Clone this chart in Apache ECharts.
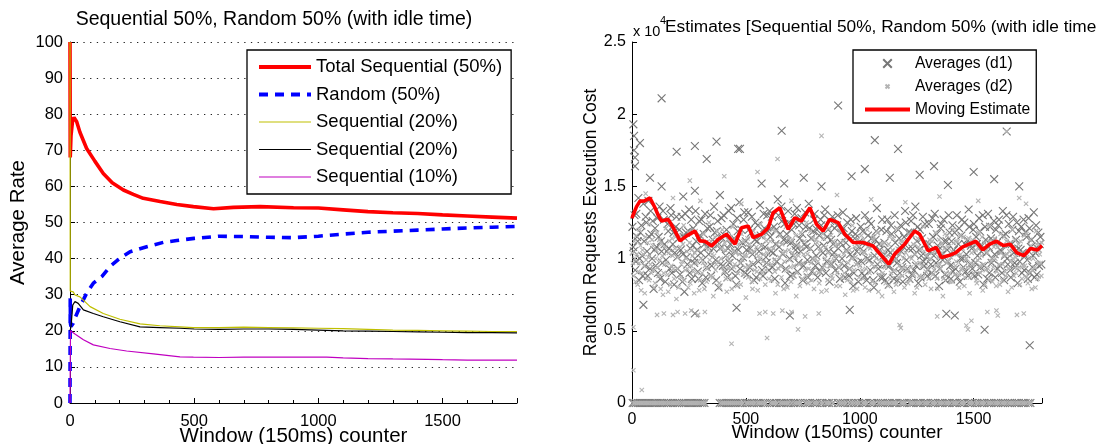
<!DOCTYPE html>
<html><head><meta charset="utf-8">
<script src="https://cdn.jsdelivr.net/npm/echarts@6/dist/echarts.min.js"></script>
<style>html,body{margin:0;padding:0;background:#fff}#c{width:1096px;height:444px}</style>
</head><body><div id="c"></div>
<script>
// ---------- Left chart data ----------
const leftTitle = 'Sequential 50%, Random 50% (with idle time)';
const rightTitle = 'Estimates [Sequential 50%, Random 50% (with idle time)]';
const xTicks = [0, 500, 1000, 1500];

const xTotal = [0,1,4,10,16,27,40,67,100,134,170,215,255,295,363,430,497,578,658,766,900,1000,1100,1200,1300,1400,1500,1600,1700,1800];
const totalSeq = [100,68,74,78,79.1,77.9,75,70.5,67,63.6,61,59,57.8,56.7,55.8,55,54.4,53.8,54.2,54.4,54.1,54.0,53.5,53.0,52.7,52.5,52.1,51.8,51.5,51.2];

const xRand = [0,1,2,4,8,13,20,40,67,94,128,161,201,242,309,376,430,500,600,700,800,900,1000,1100,1200,1300,1400,1500,1600,1700,1800];
const randomSer = [0,29,22,21.2,21,22.1,23.5,26.7,30.4,33.2,35,37.8,40.1,41.9,43.3,44.5,45,45.6,46.2,46.1,45.9,45.8,46.2,46.8,47.3,47.6,47.9,48.2,48.5,48.7,48.9];

const xSeqA = [0,1,3,13,20,40,81,134,201,282,362,443,497,600,700,800,900,1000,1100,1200,1300,1400,1500,1600,1700,1800];
const seqA = [100,31,30.5,30.8,29.9,29.4,26.7,24.8,23.2,21.9,21.4,21.1,20.9,20.9,21.0,20.9,20.8,20.7,20.6,20.4,20.2,20.1,20.0,19.9,19.8,19.8];

const xSeqB = [0,4,11,20,33,54,94,134,201,282,362,443,500,600,700,800,900,1000,1100,1200,1300,1400,1500,1600,1700,1800];
const seqB = [20,21.1,27.1,28.1,27.6,25.8,24.8,23.9,22.5,21.1,20.9,20.7,20.5,20.4,20.5,20.5,20.4,20.2,20.0,19.9,19.8,19.7,19.6,19.5,19.5,19.4];

const xSeqC = [0,2,20,54,94,161,228,336,443,497,600,700,800,900,1034,1100,1200,1300,1437,1500,1600,1700,1800];
const seqC = [0,20,19.1,17.5,16.1,15.1,14.4,13.6,12.8,12.7,12.6,12.7,12.7,12.7,12.7,12.5,12.3,12.2,12.1,12.0,11.9,11.9,11.9];

// ---------- Right chart data (values in units of 10^4) ----------
const xEst = [0,3,20,35,55,79,101,115,130,159,181,211,240,276,298,320,350,379,415,452,481,510,532,569,598,620,649,671,686,715,744,781,810,839,868,905,934,971,1014,1058,1102,1128,1153,1197,1241,1263,1300,1336,1358,1387,1420,1450,1480,1510,1540,1570,1600,1630,1660,1690,1720,1750,1780,1800];
const estimate = [1.28,1.295,1.36,1.398,1.40,1.42,1.352,1.30,1.26,1.272,1.214,1.123,1.157,1.19,1.123,1.12,1.088,1.134,1.169,1.10,1.214,1.226,1.145,1.169,1.214,1.318,1.352,1.26,1.203,1.283,1.26,1.352,1.238,1.191,1.272,1.249,1.169,1.111,1.111,1.088,1.008,0.962,1.031,1.10,1.191,1.169,1.054,1.077,1.008,1.019,1.04,1.08,1.10,1.12,1.06,1.10,1.12,1.09,1.10,1.04,1.02,1.07,1.06,1.09];

const d1Cloud = [
[2,1.22],[8,1.05],[14,0.92],[19,1.31],[25,1.12],[31,0.85],[37,1.18],[44,1.02],[50,1.38],[57,0.95],[63,1.25],[69,0.88],[76,1.15],[82,1.33],[88,1.0],[95,0.79],
[101,1.21],[108,1.08],[114,0.9],[121,1.36],[127,1.12],[133,0.97],[140,1.27],[146,0.84],[153,1.05],[159,1.19],[166,0.93],[172,1.3],[179,1.1],[185,0.82],[192,1.22],[198,1.01],
[205,1.14],[211,0.89],[218,1.29],[224,1.03],[230,0.77],[237,1.18],[243,0.96],[250,1.34],[256,1.07],[263,0.86],[269,1.21],[276,1.0],[282,1.12],[289,0.91],[295,1.26],
[302,1.04],[308,0.83],[315,1.17],[321,1.31],[328,0.94],[334,1.08],[341,1.22],[347,0.88],[354,1.13],[360,1.36],[367,0.99],[373,1.19],[380,0.8],[386,1.07],[393,1.28],[399,0.95],
[406,1.16],[412,1.02],[419,0.87],[425,1.33],[432,1.1],[438,0.93],[445,1.24],[451,1.05],[458,0.82],[464,1.19],[471,1.39],[477,0.97],[484,1.11],[490,1.27],[497,0.9],
[503,1.06],[510,1.32],[516,0.94],[523,1.18],[529,1.03],[536,0.85],[542,1.25],[549,1.12],[555,0.98],[562,1.37],[568,1.09],[575,0.88],[581,1.21],[588,1.01],[594,1.3],
[601,0.92],[607,1.15],[614,1.29],[620,1.04],[627,0.86],[633,1.2],[640,1.41],[646,1.08],[653,0.95],[659,1.26],[666,1.13],[672,0.83],[679,1.17],[685,1.33],[692,1.0],[698,1.11],
[705,0.89],[711,1.24],[718,1.06],[724,1.35],[731,0.97],[737,1.14],[744,1.28],[750,0.85],[757,1.1],[763,1.22],[770,0.99],[776,1.38],[783,1.07],[789,0.91],[796,1.19],
[802,1.31],[809,1.02],[815,0.87],[822,1.16],[828,1.27],[835,0.94],[841,1.09],[848,1.34],[854,0.98],[861,1.2],[867,0.84],[874,1.13],[880,1.29],[887,1.04],[893,0.92],[900,1.23],
[906,1.07],[913,0.86],[919,1.18],[926,1.32],[932,0.95],[939,1.11],[945,1.25],[952,0.88],[958,1.03],[965,1.19],[971,0.81],[978,1.14],[984,1.28],[991,0.97],[997,1.08],
[1004,1.22],[1010,0.9],[1017,1.05],[1023,1.3],[1030,0.85],[1036,1.16],[1043,0.99],[1049,1.24],[1056,1.09],[1062,0.8],[1069,1.13],[1075,1.35],[1082,0.93],[1088,1.06],[1095,1.2],
[1101,0.87],[1108,1.11],[1114,0.96],[1121,1.27],[1127,0.82],[1134,1.04],[1140,1.17],[1147,0.91],[1153,1.3],[1160,1.0],[1166,0.85],[1173,1.14],[1179,1.23],[1186,0.94],[1192,1.08],[1199,1.33],
[1205,0.99],[1212,1.18],[1218,0.86],[1225,1.26],[1231,1.07],[1238,0.92],[1244,1.36],[1251,1.12],[1257,0.83],[1264,1.2],[1270,1.02],[1277,1.29],[1283,0.95],[1290,1.1],[1296,0.88],
[1303,1.24],[1309,1.05],[1316,0.9],[1322,1.15],[1329,1.31],[1335,0.97],[1342,1.09],[1348,0.81],[1355,1.21],[1361,1.03],[1368,1.27],[1374,0.89],[1381,1.12],[1387,0.98],[1394,1.18],
[1400,0.86],[1407,1.23],[1413,1.06],[1420,0.93],[1426,1.3],[1433,1.1],[1439,0.84],[1446,1.16],[1452,1.0],[1459,1.25],[1465,0.91],[1472,1.13],[1478,1.34],[1485,0.96],[1491,1.07],[1498,1.2],
[1504,0.88],[1511,1.15],[1517,1.02],[1524,1.28],[1530,0.94],[1537,1.09],[1543,0.82],[1550,1.22],[1556,1.04],[1563,1.31],[1569,0.9],[1576,1.14],[1582,1.0],[1589,1.26],[1595,0.87],
[1602,1.11],[1608,1.23],[1615,0.95],[1621,1.05],[1628,1.33],[1634,0.85],[1641,1.17],[1647,1.0],[1654,1.24],[1660,0.92],[1667,1.1],[1673,1.29],[1680,0.97],[1686,1.13],[1693,0.83],
[1699,1.19],[1706,1.06],[1712,0.9],[1719,1.27],[1725,1.02],[1732,1.15],[1738,0.86],[1745,1.21],[1751,1.08],[1758,0.94],[1764,1.32],[1771,1.04],[1777,0.89],[1784,1.18],[1790,1.1],[1797,0.96]
];
const d1Cloud2 = [
[5,1.08],[11,1.3],[17,0.98],[22,1.15],[28,1.42],[34,1.0],[41,1.23],[47,0.88],[53,1.12],[60,1.29],[66,1.05],[72,1.4],[79,0.93],[85,1.17],[91,1.26],[98,1.06],
[104,0.95],[111,1.28],[117,1.15],[124,0.86],[130,1.05],[136,1.33],[143,1.1],[149,0.99],[156,1.24],[162,1.07],[169,1.35],[175,0.9],[182,1.18],[188,1.04],[195,1.29],
[201,0.93],[208,1.2],[214,1.06],[221,0.84],[227,1.15],[234,1.31],[240,1.01],[247,1.19],[253,0.9],[260,1.27],[266,1.09],[273,0.97],[279,1.33],[286,1.06],[292,0.86],[298,1.16],
[305,1.27],[311,0.99],[318,1.1],[324,0.87],[331,1.21],[337,1.03],[344,1.3],[350,0.95],[357,1.07],[363,1.18],[370,0.85],[376,1.26],[383,1.1],[389,0.96],[396,1.14],
[402,1.3],[409,0.91],[415,1.2],[422,1.07],[428,0.97],[435,1.35],[441,1.02],[448,1.14],[454,0.88],[461,1.28],[467,1.06],[474,0.93],[480,1.2],[487,1.01],[493,1.32],[500,1.12],
[506,0.89],[513,1.2],[519,1.07],[526,1.29],[532,0.96],[539,1.13],[545,0.87],[552,1.23],[558,1.05],[565,1.16],[571,0.92],[578,1.31],[584,1.08],[591,0.97],[597,1.19],
[604,1.33],[610,1.05],[617,0.94],[623,1.22],[630,1.1],[636,0.98],[643,1.3],[649,1.17],[656,1.36],[662,1.03],[669,1.24],[675,0.93],[682,1.12],[688,1.25],[695,0.88],
[701,1.2],[708,1.02],[714,1.31],[721,1.09],[727,0.91],[734,1.23],[740,1.05],[747,1.17],[753,0.95],[760,1.32],[766,1.08],[773,0.87],[779,1.21],[786,1.14],[792,1.0],[799,1.27],
[805,0.95],[812,1.2],[818,1.08],[825,0.91],[831,1.23],[838,1.04],[844,1.3],[851,0.9],[857,1.15],[864,1.05],[870,1.26],[877,0.96],[883,1.1],[890,1.21],[896,1.0],
[903,1.3],[909,0.94],[916,1.11],[922,1.0],[929,1.21],[935,0.87],[942,1.06],[948,1.16],[955,0.93],[961,1.27],[968,1.01],[974,0.9],[981,1.17],[987,1.05],[994,0.84],[1000,1.12],
[1007,0.98],[1013,1.19],[1020,0.88],[1026,1.1],[1033,1.0],[1039,1.26],[1046,0.92],[1052,1.14],[1059,0.85],[1065,1.02],[1072,1.19],[1078,0.96],[1085,1.1],[1091,0.87],[1098,1.27],
[1104,1.02],[1111,0.85],[1117,1.19],[1124,1.06],[1130,0.95],[1137,1.23],[1143,1.0],[1150,0.86],[1156,1.11],[1163,0.97],[1169,1.2],[1176,0.9],[1182,1.05],[1189,0.84],[1195,1.15],
[1202,1.25],[1208,0.93],[1215,1.07],[1221,1.18],[1228,0.89],[1234,1.3],[1241,1.03],[1247,0.95],[1254,1.22],[1260,1.06],[1267,0.87],[1273,1.14],[1280,0.98],[1286,1.24],[1293,1.01],[1299,0.92],
[1306,1.1],[1312,0.96],[1319,1.28],[1325,1.02],[1332,0.88],[1338,1.17],[1345,1.06],[1351,0.93],[1358,1.24],[1364,0.99],[1371,1.12],[1377,0.85],[1384,1.06],[1390,1.3],[1397,0.95],
[1403,1.12],[1410,0.91],[1416,1.18],[1423,1.04],[1429,0.87],[1436,1.21],[1442,1.0],[1449,1.27],[1455,0.94],[1462,1.1],[1468,1.03],[1475,0.88],[1481,1.22],[1488,1.09],[1494,0.93],
[1501,1.24],[1507,0.97],[1514,1.1],[1520,0.89],[1527,1.19],[1533,1.05],[1540,1.3],[1546,0.95],[1553,1.13],[1559,0.86],[1566,1.08],[1572,1.22],[1579,0.97],[1585,1.12],[1592,1.03],[1598,1.2],
[1605,0.93],[1611,1.27],[1618,1.06],[1624,0.9],[1631,1.16],[1637,1.02],[1644,1.3],[1650,0.96],[1657,1.1],[1663,0.87],[1670,1.2],[1676,1.04],[1683,0.94],[1689,1.25],[1696,1.07],
[1702,0.98],[1709,1.22],[1715,1.04],[1722,0.92],[1728,1.18],[1735,0.99],[1741,1.28],[1748,0.9],[1754,1.13],[1761,1.02],[1767,0.87],[1774,1.23],[1780,1.07],[1787,0.95],[1793,1.15]
];
const d1Outliers = [[6,1.93],[9,1.85],[9,1.75],[13,1.70],[13,1.64],[35,1.80],[130,2.11],[196,1.74],[276,1.78],[328,1.69],[371,1.81],[466,1.76],[79,1.56],[130,1.50],[225,1.43],[276,1.47],[386,1.44],[905,2.06],[657,1.885],[474,1.76],[569,1.52],[668,1.52],[754,1.56],[832,1.50],[1066,1.82],[1168,1.76],[1326,1.64],[1022,1.62],[964,1.57],[1132,1.56],[1263,1.58],[1387,1.51],[1645,1.88],[1500,1.6],[1590,1.55],[1700,1.5],[276,0.62],[693,0.606],[1548,0.507],[1746,0.40],[1380,0.618],[1417,0.606],[956,0.645],[50,0.68],[459,0.66]];
const d1ZeroX = [3,10,18,27,35,44,52,61,70,78,88,97,105,116,124,133,141,152,160,171,180,189,198,208,219,228,236,247,255,264,273,282,290,300,309,318,385,394,402,411,420,428,437,446,455,464,474,483,498,507,517,526,535,548,556,565,575,584,606,615,624,633,648,657,666,675,684,697,710,719,728,737,760,771,780,795,804,812,826,835,849,858,866,880,904,915,925,935,950,962,973,984,995,1010,1019,1028,1045,1054,1063,1080,1092,1101,1111,1122,1131,1143,1152,1160,1178,1187,1196,1218,1227,1236,1248,1257,1266,1280,1289,1298,1313,1322,1331,1345,1354,1363,1375,1384,1393,1407,1416,1425,1440,1449,1458,1475,1484,1493,1507,1516,1528,1537,1546,1560,1569,1578,1590,1599,1608,1620,1629,1638,1650,1659,1668,1680,1689,1698,1710,1719,1728,1740,1749];

const d2Cloud = [
[4,0.97],[10,1.12],[16,0.84],[22,1.03],[28,0.91],[34,1.2],[40,0.78],[46,1.06],[53,0.95],[59,1.15],[65,0.86],[72,1.01],[78,1.24],[85,0.9],[91,1.09],[97,0.8],
[104,1.0],[110,1.18],[117,0.88],[123,0.99],[130,1.1],[136,0.75],[143,0.96],[149,1.21],[156,0.89],[162,1.04],[169,0.82],[175,1.14],[182,0.93],[188,1.07],[195,0.72],
[201,1.01],[208,1.16],[214,0.87],[221,0.98],[227,1.23],[234,0.92],[240,1.05],[247,0.8],[253,1.11],[260,0.95],[266,1.02],[273,0.76],[279,1.19],[286,0.9],[292,1.06],[299,0.85],
[305,1.13],[312,0.97],[318,0.79],[325,1.08],[331,0.93],[338,1.25],[344,0.88],[351,1.03],[357,0.74],[364,1.15],[370,0.96],[377,1.09],[383,0.83],[390,1.0],[396,1.2],
[403,0.91],[409,1.06],[416,0.77],[422,1.13],[429,0.98],[435,0.86],[442,1.22],[448,0.94],[455,1.04],[461,0.81],[468,1.1],[474,0.97],[481,1.17],[487,0.89],[494,1.02],
[500,0.73],[507,1.14],[513,0.95],[520,1.05],[526,0.84],[533,1.19],[539,0.92],[546,1.08],[552,0.78],[559,1.0],[565,1.24],[572,0.9],[578,1.03],[585,0.82],[591,1.12],[598,0.96],
[604,1.07],[611,0.85],[617,1.2],[624,0.99],[630,0.76],[637,1.1],[643,0.93],[650,1.16],[656,0.87],[663,1.04],[669,0.98],[676,1.22],[682,0.8],[689,1.06],[695,0.94],
[702,1.13],[708,0.88],[715,1.01],[721,0.74],[728,1.09],[734,0.96],[741,1.18],[747,0.86],[754,1.03],[760,0.92],[767,1.25],[773,0.83],[780,1.07],[786,0.97],[793,1.14],[799,0.79],
[806,1.0],[812,1.11],[819,0.9],[825,1.05],[832,0.77],[838,1.17],[845,0.95],[851,1.08],[858,0.85],[864,1.21],[871,0.98],[877,0.88],[884,1.12],[890,1.02],[897,0.81],
[903,1.1],[910,0.94],[916,1.19],[923,0.87],[929,1.03],[936,0.75],[942,1.14],[949,0.97],[955,1.06],[962,0.84],[968,1.23],[975,0.92],[981,1.01],[988,0.79],[994,1.09],
[1001,0.95],[1007,1.16],[1014,0.86],[1020,1.04],[1027,0.93],[1033,1.2],[1040,0.78],[1046,1.07],[1053,0.96],[1059,1.13],[1066,0.83],[1072,1.0],[1079,1.18],[1085,0.89],[1092,1.05],[1098,0.74],
[1105,1.11],[1111,0.94],[1118,1.02],[1124,0.81],[1131,1.15],[1137,0.9],[1144,1.06],[1150,0.77],[1157,0.99],[1163,1.21],[1170,0.87],[1176,1.03],[1183,0.93],[1189,1.12],[1196,0.8],
[1202,1.04],[1209,0.91],[1215,1.17],[1222,0.85],[1228,1.0],[1235,1.1],[1241,0.76],[1248,0.97],[1254,1.14],[1261,0.88],[1267,1.06],[1274,0.95],[1280,1.22],[1287,0.82],[1293,1.02],[1300,0.93],
[1306,1.13],[1313,0.79],[1319,1.04],[1326,0.92],[1332,1.18],[1339,0.86],[1345,1.01],[1352,0.96],[1358,1.1],[1365,0.74],[1371,1.07],[1378,0.9],[1384,1.16],[1391,0.99],[1397,0.84],
[1404,1.05],[1410,1.2],[1417,0.89],[1423,0.98],[1430,1.12],[1436,0.8],[1443,1.03],[1449,0.93],[1456,1.15],[1462,0.87],[1469,1.0],[1475,1.09],[1482,0.76],[1488,0.97],[1495,1.13],
[1501,0.9],[1508,1.06],[1514,0.83],[1521,1.18],[1527,0.95],[1534,1.02],[1540,0.78],[1547,1.11],[1553,0.92],[1560,1.04],[1566,1.23],[1573,0.86],[1579,1.0],[1586,0.94],[1592,1.14],[1599,0.81],
[1605,1.08],[1612,0.96],[1618,1.17],[1625,0.85],[1631,1.02],[1638,0.91],[1644,1.12],[1651,0.77],[1657,1.05],[1664,0.98],[1670,1.2],[1677,0.88],[1683,1.01],[1690,0.93],[1696,1.1],
[1703,0.82],[1709,1.04],[1716,0.95],[1722,1.16],[1729,0.87],[1735,1.03],[1742,0.9],[1748,1.13],[1755,0.79],[1761,1.0],[1768,0.94],[1774,1.19],[1781,0.86],[1787,1.06],[1794,0.97],[1799,1.11]
];
const d2Cloud2 = [
[1,1.04],[7,0.88],[13,1.0],[19,1.16],[25,0.82],[31,0.97],[37,1.09],[43,0.9],[50,1.03],[56,0.76],[62,0.99],[69,1.11],[75,0.85],[81,0.96],[88,1.13],[94,0.92],
[101,0.83],[107,1.06],[113,0.94],[120,1.13],[126,0.79],[133,1.02],[139,0.9],[146,1.08],[152,0.97],[159,0.77],[165,1.12],[172,0.95],[178,1.02],[185,0.86],[191,1.15],[198,0.93],
[204,0.8],[211,1.08],[217,0.96],[224,1.1],[230,0.85],[237,1.0],[243,0.93],[250,1.18],[256,0.83],[263,1.06],[269,0.91],[276,1.04],[282,0.97],[289,1.14],[295,0.78],
[302,1.0],[308,0.9],[315,1.17],[321,0.95],[328,0.84],[334,1.06],[341,0.99],[347,1.12],[354,0.87],[360,1.02],[367,0.92],[373,1.19],[380,0.98],[386,0.8],[393,1.07],[399,0.94],
[406,1.11],[412,0.86],[419,1.01],[425,0.93],[432,1.15],[438,0.79],[445,1.05],[451,0.96],[458,1.13],[464,0.9],[471,1.03],[477,0.82],[484,0.99],[490,1.12],[497,0.94],
[503,1.02],[510,0.87],[516,1.1],[523,0.97],[529,0.79],[536,1.05],[542,1.16],[549,0.91],[555,1.02],[562,0.86],[568,1.09],[575,0.98],[581,1.15],[588,0.92],[594,1.04],
[601,0.86],[607,1.12],[614,0.96],[620,1.07],[627,0.91],[633,1.19],[640,0.82],[646,1.01],[653,0.95],[659,1.1],[666,0.79],[672,1.05],[679,0.92],[685,1.14],[692,0.99],[698,0.84],
[705,1.04],[711,0.95],[718,1.16],[724,0.9],[731,1.02],[737,0.81],[744,1.08],[750,0.97],[757,1.12],[763,0.88],[770,1.03],[776,0.93],[783,1.19],[789,0.85],[796,1.0],
[802,0.9],[809,1.13],[815,0.98],[822,0.83],[828,1.07],[835,0.92],[841,1.14],[848,1.0],[854,0.78],[861,1.04],[867,0.95],[874,1.16],[880,0.86],[887,0.99],[893,1.09],[900,0.9],
[906,1.02],[913,0.81],[919,0.97],[926,1.12],[932,0.9],[939,1.05],[945,0.85],[952,1.15],[958,0.93],[965,1.0],[971,0.78],[978,1.08],[984,0.96],[991,1.13],[997,0.87],
[1004,1.05],[1010,0.92],[1017,1.13],[1023,0.8],[1030,0.99],[1036,1.08],[1043,0.9],[1049,1.02],[1056,0.84],[1062,1.15],[1069,0.94],[1075,1.04],[1082,0.77],[1088,0.98],[1095,1.1],
[1101,0.9],[1108,1.05],[1114,0.83],[1121,0.97],[1127,1.1],[1134,0.86],[1140,1.01],[1147,1.14],[1153,0.92],[1160,0.82],[1166,1.07],[1173,0.95],[1179,1.12],[1186,0.88],[1192,1.0],[1199,0.94],
[1205,1.12],[1212,0.83],[1218,1.01],[1225,0.94],[1231,1.16],[1238,0.89],[1244,1.03],[1251,0.8],[1257,1.08],[1264,0.97],[1270,1.14],[1277,0.87],[1283,1.05],[1290,0.91],[1296,1.1],
[1303,0.86],[1309,1.0],[1316,1.12],[1322,0.89],[1329,1.05],[1335,0.95],[1342,0.79],[1348,1.13],[1355,0.93],[1361,1.04],[1368,0.86],[1374,1.17],[1381,0.97],[1387,1.08],[1394,0.9],
[1400,1.01],[1407,0.84],[1413,1.11],[1420,0.95],[1426,1.03],[1433,0.89],[1439,1.16],[1446,0.92],[1452,1.07],[1459,0.81],[1465,1.0],[1472,0.94],[1478,1.14],[1485,0.87],[1491,1.04],[1498,0.96],
[1504,1.1],[1511,0.85],[1517,0.99],[1524,1.07],[1530,0.9],[1537,1.15],[1543,0.96],[1550,0.82],[1556,1.06],[1563,0.93],[1569,1.12],[1576,0.98],[1582,0.84],[1589,1.08],[1595,1.0],
[1602,0.91],[1608,1.1],[1615,0.82],[1621,1.04],[1628,0.96],[1634,1.15],[1641,0.88],[1647,1.03],[1654,0.93],[1660,1.11],[1667,0.8],[1673,1.0],[1680,1.13],[1686,0.9],[1693,1.05],
[1699,0.94],[1706,1.12],[1712,0.86],[1719,1.02],[1725,0.95],[1732,1.17],[1738,0.83],[1745,1.0],[1751,1.09],[1758,0.92],[1764,1.05],[1771,0.8],[1777,1.1],[1784,0.97],[1790,1.03],[1797,0.88]
];
const d2Outliers = [[6,0.525],[6,0.227],[43,0.09],[437,0.41],[593,0.45],[729,0.51],[1175,0.54],[1180,0.52],[1468,0.537],[1475,0.51],[1490,0.57],[1606,0.606],[110,0.61],[140,0.62],[180,0.61],[200,0.63],[233,0.62],[260,0.64],[290,0.61],[320,0.63],[560,0.62],[585,0.63],[620,0.62],[660,0.64],[700,0.63],[760,0.6],[820,0.62],[1340,0.6],[1560,0.63],[1600,0.64],[1690,0.61],[1720,0.62],[405,1.57],[254,1.54],[832,1.85],[639,1.69],[551,1.6],[60,1.45],[180,1.42],[300,1.4],[480,1.38],[700,1.4],[900,1.44],[1050,1.41],[1200,1.39],[1350,1.43],[1520,1.4],[1700,1.42],[1645,1.88],[1730,1.38]];
const d2ZeroX = [7,14,23,31,40,48,57,66,74,83,92,101,110,120,128,137,146,156,165,175,184,193,202,212,223,232,241,251,259,268,277,286,295,305,313,322,389,398,406,415,424,432,441,450,459,468,478,487,502,511,521,530,540,552,560,569,579,588,610,619,628,637,652,661,670,679,688,701,714,723,732,741,764,775,784,799,808,816,830,839,853,862,870,884,908,919,929,939,954,966,977,988,999,1014,1023,1032,1049,1058,1067,1084,1096,1105,1115,1126,1135,1147,1156,1164,1182,1191,1200,1222,1231,1240,1252,1261,1270,1284,1293,1302,1317,1326,1335,1349,1358,1367,1379,1388,1397,1411,1420,1429,1444,1453,1462,1479,1488,1497,1511,1520,1532,1541,1550,1564,1573,1582,1594,1603,1612,1624,1633,1642,1654,1663,1672,1684,1693,1702,1714,1723,1732,1744,1753];

// ---------- build ----------
const pairs = (xs, ys) => xs.map((x, i) => [x, ys[i]]);
const FONT = '"Liberation Sans", Arial, Helvetica, sans-serif';
const X_D1 = 'path://M-2,-2M0,0L10,10M10,0L0,10M12,12';
const X_D2 = 'path://M-10,-10M0,0L10,10M10,0L0,10M20,20';
const d1All = d1Cloud.concat(d1Cloud2, d1Outliers, d1ZeroX.map(x => [x, 0]));
const d2All = d2Cloud.concat(d2Cloud2, d2Outliers, d2ZeroX.map(x => [x, 0]));

const chart = echarts.init(document.getElementById('c'), null, {renderer: 'canvas'});
const black = '#000';
function xAxisCfg(gi, nameGap, nameSize, labelSize, margin) {
  return {
    gridIndex: gi, type: 'value', min: 0, max: 1800, interval: 500,
    axisLine: {show: true, onZero: false, lineStyle: {color: black, width: 1}},
    axisTick: {show: true, inside: true, length: 5, lineStyle: {color: black}},
    minorTick: {show: gi === 0, splitNumber: 5, length: 3, lineStyle: {color: black}},
    splitLine: {show: false},
    axisLabel: {fontSize: labelSize, color: black, margin: margin, fontFamily: FONT,
      formatter: v => (xTicks.indexOf(v) >= 0 ? String(v) : '')},
    name: 'Window (150ms) counter', nameLocation: 'middle', nameGap: nameGap, nameMoveOverlap: false,
    nameTextStyle: {fontSize: nameSize, color: black, fontFamily: FONT}
  };
}
const hideSym = {opacity: 0};
const option = {
  animation: false,
  backgroundColor: '#fff',
  textStyle: {fontFamily: FONT},
  title: [
    {text: leftTitle, left: 274, top: 10, padding: 0, textAlign: 'center', textStyle: {fontSize: 19.5, fontWeight: 'normal', color: black, fontFamily: FONT}},
    {text: rightTitle, left: 665, top: 19, padding: 0, textStyle: {fontSize: 17.3, fontWeight: 'normal', color: black, fontFamily: FONT}}
  ],
  graphic: [
    {type: 'text', left: 633, top: 24, style: {text: 'x 10', fontSize: 14.5, fill: black, fontFamily: FONT}},
    {type: 'text', left: 660, top: 15, style: {text: '4', fontSize: 11, fill: black, fontFamily: FONT}}
  ],
  grid: [
    {left: 70, top: 42, width: 447, height: 361, outerBoundsMode: 'none', containLabel: false},
    {left: 632, top: 42, width: 410, height: 361, outerBoundsMode: 'none', containLabel: false}
  ],
  xAxis: [xAxisCfg(0, 23, 20.5, 16.5, 10), xAxisCfg(1, 20, 19, 16, 9)],
  yAxis: [
    {gridIndex: 0, type: 'value', min: 0, max: 100, interval: 10,
      axisLine: {show: true, lineStyle: {color: black}},
      axisTick: {show: true, inside: true, length: 5, lineStyle: {color: black}},
      splitLine: {show: true, lineStyle: {color: '#222', type: [1.3, 5.4], width: 1}},
      axisLabel: {fontSize: 16.5, color: black, margin: 7, fontFamily: FONT},
      name: 'Average Rate', nameLocation: 'middle', nameGap: 41, nameMoveOverlap: false,
      nameTextStyle: {fontSize: 20.5, color: black, fontFamily: FONT}},
    {gridIndex: 1, type: 'value', min: 0, max: 2.5, interval: 0.5,
      axisLine: {show: true, lineStyle: {color: black}},
      axisTick: {show: true, inside: true, length: 5, lineStyle: {color: black}},
      splitLine: {show: false},
      axisLabel: {fontSize: 16, color: black, margin: 6, fontFamily: FONT},
      name: 'Random Requests Execution Cost', nameLocation: 'middle', nameGap: 32, nameMoveOverlap: false,
      nameTextStyle: {fontSize: 17.5, color: black, fontFamily: FONT}}
  ],
  legend: [
    {left: 247, top: 50, orient: 'vertical', itemWidth: 52, itemHeight: 14, itemGap: 8.5,
      padding: [7.5, 9, 7.5, 10], borderColor: black, borderWidth: 1.3, backgroundColor: '#fff',
      textStyle: {fontSize: 18.5, color: black, fontFamily: FONT}, selectedMode: false,
      data: [
        {name: 'Total Sequential (50%)', lineStyle: {width: 4}, itemStyle: hideSym},
        {name: 'Random (50%)', lineStyle: {width: 4}, itemStyle: hideSym},
        {name: 'Sequential (20%)', lineStyle: {width: 1.2}, itemStyle: hideSym},
        {name: 'Sequential (20%) ', lineStyle: {width: 1.2}, itemStyle: hideSym},
        {name: 'Sequential (10%)', lineStyle: {width: 1.2}, itemStyle: hideSym}
      ]},
    {left: 853, top: 50, orient: 'vertical', itemWidth: 45, itemHeight: 12, itemGap: 7,
      padding: [5.5, 6, 5.5, 10], borderColor: black, borderWidth: 1.3, backgroundColor: '#fff',
      textStyle: {fontSize: 15.6, color: black, fontFamily: FONT}, selectedMode: false,
      data: [
        {name: 'Averages (d1)'},
        {name: 'Averages (d2)'},
        {name: 'Moving Estimate', lineStyle: {width: 4}, itemStyle: hideSym}
      ]}
  ],
  series: [
    {name: 'Total Sequential (50%)', type: 'line', xAxisIndex: 0, yAxisIndex: 0, symbol: 'none',
      data: pairs(xTotal, totalSeq), lineStyle: {color: '#ff0000', width: 3.6}, itemStyle: {color: '#ff0000'}},
    {name: 'Random (50%)', type: 'line', xAxisIndex: 0, yAxisIndex: 0, symbol: 'none',
      data: pairs(xRand, randomSer), lineStyle: {color: '#0000ff', width: 3.6, type: [9, 7]}, itemStyle: {color: '#0000ff'}},
    {name: 'Sequential (20%)', type: 'line', xAxisIndex: 0, yAxisIndex: 0, symbol: 'none',
      data: pairs(xSeqA, seqA), lineStyle: {color: '#bfbf00', width: 1.2}, itemStyle: {color: '#bfbf00'}},
    {name: 'Sequential (20%) ', type: 'line', xAxisIndex: 0, yAxisIndex: 0, symbol: 'none',
      data: pairs(xSeqB, seqB), lineStyle: {color: '#000000', width: 1.2}, itemStyle: {color: '#000000'}},
    {name: 'Sequential (10%)', type: 'line', xAxisIndex: 0, yAxisIndex: 0, symbol: 'none',
      data: pairs(xSeqC, seqC), lineStyle: {color: '#c000c0', width: 1.2}, itemStyle: {color: '#c000c0'}},
    {name: 'Averages (d1)', type: 'scatter', xAxisIndex: 1, yAxisIndex: 1, symbol: X_D1, symbolSize: 11,
      data: d1All, itemStyle: {color: 'rgba(0,0,0,0)', borderColor: '#777777', borderWidth: 1.1, opacity: 1}},
    {name: 'Averages (d2)', type: 'scatter', xAxisIndex: 1, yAxisIndex: 1, symbol: X_D2, symbolSize: 13,
      data: d2All, itemStyle: {color: 'rgba(0,0,0,0)', borderColor: '#b4b4b4', borderWidth: 1.1, opacity: 1}},
    {name: 'Moving Estimate', type: 'line', xAxisIndex: 1, yAxisIndex: 1, symbol: 'none',
      data: pairs(xEst, estimate), lineStyle: {color: '#ff0000', width: 3.6}, itemStyle: {color: '#ff0000'}, z: 5}
  ]
};
chart.setOption(option);
</script></body></html>
